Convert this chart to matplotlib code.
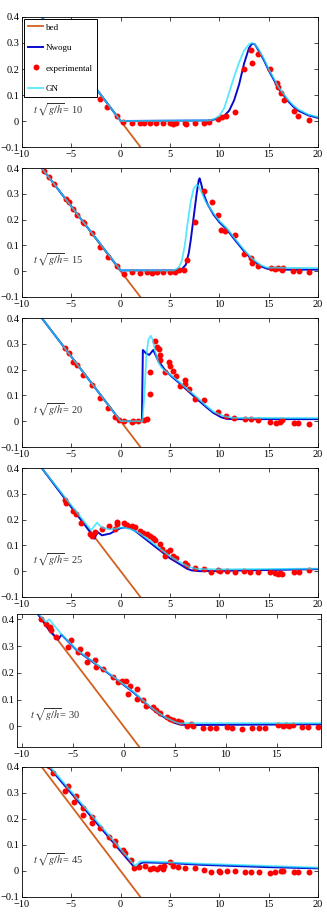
import matplotlib
matplotlib.use("Agg")
from matplotlib import pyplot as plt
from matplotlib.ticker import FuncFormatter

plt.rcParams['font.family'] = ['Liberation Serif', 'DejaVu Serif']
plt.rcParams['mathtext.fontset'] = 'stix'

# fundo (bed): reta y = -0.05 x
bed_x = [-10, 4]
bed_y = [0.5, -0.2]

times = [10, 15, 20, 25, 30, 45]

# ---- t = 10
nw_x_10 = [-8, 0, 9, 10, 10.5, 11, 11.5, 12, 12.5, 13, 13.3, 13.6, 14, 14.5, 15, 15.5, 16,
           16.5, 17, 17.5, 18, 19, 20]
nw_y_10 = [0.4, 0, 0.002, 0.01, 0.02, 0.04, 0.08, 0.14, 0.22, 0.28, 0.297, 0.295, 0.27, 0.235,
           0.195, 0.16, 0.125, 0.1, 0.075, 0.055, 0.04, 0.022, 0.012]
gn_x_10 = [-8, 0, 9, 9.5, 10, 10.5, 11, 11.5, 12, 12.5, 13, 13.3, 13.6, 14, 14.5, 15, 15.5,
           16, 16.5, 17, 17.5, 18, 19, 20]
gn_y_10 = [0.4, 0, 0.002, 0.008, 0.02, 0.05, 0.11, 0.17, 0.225, 0.27, 0.295, 0.3, 0.295,
           0.275, 0.24, 0.2, 0.165, 0.13, 0.105, 0.08, 0.06, 0.045, 0.025, 0.015]
ex_x_10 = [-3.0, -2.1, -1.35, -0.4, 0.28, 1.1, 2.0, 2.4, 3.0, 3.6, 4.3, 5.0, 5.3, 5.6, 6.5, 6.6,
           7.5, 8.4, 9.0, 9.9, 10.25, 10.7, 11.6, 12.55, 13.2, 13.3, 13.9, 15.1, 15.8, 15.9,
           16.3, 16.6, 17.6, 17.95, 19.05]
ex_y_10 = [0.134, 0.086, 0.054, 0.018, -0.005, -0.008, -0.006, -0.008, -0.006, -0.008, -0.006,
           -0.008, -0.01, -0.006, -0.008, -0.01, -0.008, -0.008, -0.002, 0.009, 0.015, 0.018,
           0.035, 0.2, 0.275, 0.224, 0.257, 0.2, 0.148, 0.13, 0.108, 0.08, 0.04, 0.018, 0.005]

# ---- t = 15
nw_x_15 = [-8, 0, 5.6, 6.2, 6.6, 6.9, 7.1, 7.4, 7.7, 7.9, 8.0, 8.15, 8.4, 8.8, 9.4, 10, 10.8,
           11.6, 12.45, 13.3, 14.15, 14.8, 15.5, 20]
nw_y_15 = [0.4, 0.003, 0.003, 0.008, 0.025, 0.07, 0.12, 0.21, 0.3, 0.35, 0.36, 0.34, 0.3, 0.26,
           0.22, 0.19, 0.16, 0.12, 0.08, 0.045, 0.02, 0.01, 0.006, 0.006]
gn_x_15 = [-8, 0, 5.4, 5.9, 6.2, 6.5, 6.8, 7.1, 7.4, 7.7, 7.9, 8.2, 8.6, 9.4, 10, 10.8, 11.6,
           12.45, 13.3, 14.15, 14.8, 20]
gn_y_15 = [0.4, 0.003, 0.003, 0.015, 0.04, 0.1, 0.19, 0.27, 0.32, 0.335, 0.33, 0.305, 0.27,
           0.225, 0.195, 0.165, 0.125, 0.085, 0.05, 0.025, 0.014, 0.012]
ex_x_15 = [-7.8, -7.3, -6.8, -5.5, -5.2, -4.8, -4.45, -3.85, -3.7, -2.95, -2.1, -1.25, -0.4,
           0.35, 1.1, 2.0, 2.65, 3.15, 3.65, 4.3, 5.0, 5.5, 5.9, 6.4, 6.77, 7.55, 8.4, 9.3, 9.9,
           10.15, 10.6, 11.6, 12.55, 13.2, 13.3, 13.9, 15.2, 15.65, 15.99, 16.35, 16.5, 17.5,
           18.1, 19.05]
ex_y_15 = [0.387, 0.367, 0.337, 0.279, 0.267, 0.24, 0.218, 0.19, 0.185, 0.148, 0.094, 0.055,
           0.022, -0.01, -0.004, -0.008, -0.004, -0.008, -0.004, -0.004, -0.004, -0.004, 0.003,
           0.005, 0.042, 0.192, 0.309, 0.27, 0.218, 0.159, 0.156, 0.139, 0.065, 0.052, 0.031,
           0.022, 0.012, 0.009, 0.013, 0.003, 0.013, 0.0, 0.0, -0.004]

# ---- t = 20
nw_x_20 = [-8, 0, 2.15, 2.25, 2.6, 2.9, 3.3, 3.8, 4.5, 5.2, 6.0, 6.8, 7.7, 8.6, 9.4, 10.2,
           10.75, 11.5, 20]
nw_y_20 = [0.4, 0, 0, 0.276, 0.262, 0.257, 0.276, 0.235, 0.198, 0.172, 0.146, 0.118, 0.087,
           0.057, 0.032, 0.015, 0.009, 0.008, 0.008]
gn_x_20 = [-8, 0, 2.2, 2.4, 2.6, 2.8, 3.05, 3.25, 3.5, 3.8, 4.1, 4.5, 5.2, 6.0, 6.8, 7.7, 8.6,
           9.4, 10.4, 11.4, 20]
gn_y_20 = [0.4, 0, 0, 0.1, 0.25, 0.315, 0.331, 0.315, 0.27, 0.23, 0.21, 0.195, 0.175, 0.15,
           0.123, 0.094, 0.062, 0.037, 0.02, 0.013, 0.012]
ex_x_20 = [-5.65, -5.2, -4.8, -4.45, -3.8, -2.95, -2.1, -1.25, -0.55, -0.2, 0.35, 1.1, 1.3,
           1.8, 2.4, 2.65, 3.0, 3.0, 3.5, 3.65, 3.9, 4.0, 4.0, 4.5, 4.85, 5.0, 5.35, 5.6, 6.0,
           6.5, 6.5, 6.9, 7.55, 8.4, 9.9, 10.7, 11.45, 12.6, 13.2, 13.95, 15.15, 15.75, 16.15,
           16.35, 17.55, 17.95, 19.05]
ex_y_20 = [0.283, 0.263, 0.231, 0.218, 0.178, 0.142, 0.09, 0.051, 0.016, 0.003, 0.0, -0.004,
           0.0, 0.0, 0.005, 0.009, 0.104, 0.192, 0.309, 0.289, 0.279, 0.257, 0.237, 0.192,
           0.231, 0.214, 0.195, 0.175, 0.135, 0.159, 0.146, 0.126, 0.085, 0.081, 0.035, 0.022,
           0.013, 0.007, 0.009, 0.003, -0.004, -0.007, -0.004, 0.003, -0.007, -0.007, -0.01]

# ---- t = 25
nw_x_25 = [-8, -3.1, -2.65, -2.35, -1.9, -1.05, -0.5, 0.0, 0.5, 1.0, 1.5, 2.0, 3.0, 4.0, 5.0,
           6.0, 6.7, 7.2, 8.05, 20]
nw_y_25 = [0.4, 0.152, 0.126, 0.152, 0.139, 0.146, 0.158, 0.167, 0.17, 0.167, 0.155, 0.14,
           0.11, 0.08, 0.05, 0.027, 0.01, 0.003, 0.0, 0.008]
gn_x_25 = [-8, -3.0, -2.4, -1.9, -1.05, -0.5, 0.0, 0.6, 1.3, 2.0, 3.0, 4.0, 5.0, 6.0, 6.9,
           7.7, 9.7, 20]
gn_y_25 = [0.4, 0.159, 0.188, 0.169, 0.162, 0.165, 0.169, 0.167, 0.159, 0.145, 0.117, 0.087,
           0.058, 0.035, 0.017, 0.009, 0.007, 0.01]
ex_x_25 = [-5.65, -5.5, -4.8, -4.55, -4.0, -3.15, -2.95, -2.6, -1.9, -1.2, -0.55, -0.4, -0.35,
           0.3, 0.6, 1.1, 1.45, 2.0, 2.25, 2.65, 3.0, 3.25, 3.5, 3.95, 4.15, 4.5, 4.7, 5.0,
           5.35, 5.6, 6.55, 6.7, 7.55, 8.4, 9.15, 9.9, 10.1, 10.75, 11.6, 12.45, 13.15, 13.9,
           15.15, 15.65, 15.9, 16.15, 16.35, 17.55, 18.05, 19.05]
ex_y_25 = [0.276, 0.266, 0.233, 0.221, 0.185, 0.143, 0.135, 0.152, 0.165, 0.175, 0.162, 0.192,
           0.182, 0.185, 0.178, 0.175, 0.172, 0.156, 0.149, 0.146, 0.135, 0.13, 0.12, 0.107,
           0.087, 0.057, 0.074, 0.081, 0.057, 0.052, 0.031, 0.025, 0.013, 0.009, -0.004, 0.003,
           0.0, -0.001, -0.004, -0.001, -0.004, -0.004, -0.004, -0.007, -0.01, -0.007, -0.01,
           -0.004, -0.004, 0.003]

# ---- t = 30
nw_x_30 = [-8.6, -7.25, -6.43, -6.1, -4.6, -2.35, -0.38, 0.93, 2.57, 3.5, 4.2, 5.0, 5.5, 6.2, 20]
nw_y_30 = [0.43, 0.356, 0.324, 0.343, 0.284, 0.222, 0.166, 0.128, 0.072, 0.045, 0.029, 0.013,
           0.007, 0.005, 0.008]
gn_x_30 = [-8.6, -7.6, -7.3, -6.1, -4.6, -2.35, -0.38, 0.93, 2.57, 3.5, 4.2, 5.0, 5.5, 6.3, 20]
gn_y_30 = [0.43, 0.39, 0.4, 0.344, 0.286, 0.224, 0.168, 0.13, 0.075, 0.048, 0.032, 0.017,
           0.011, 0.012, 0.012]
ex_x_30 = [-8.07, -7.58, -7.25, -7.1, -6.6, -5.45, -5.2, -4.47, -4.3, -3.6, -3.6, -2.85, -2.67,
           -2.0, -1.03, -0.54, -0.2, 0.27, 0.6, 0.44, 1.26, 1.32, 1.9, 2.17, 2.9, 3.15, 3.55,
           4.2, 4.53, 4.86, 5.35, 5.67, 6.17, 6.56, 6.82, 7.8, 8.45, 9.1, 10.1, 10.58, 11.56,
           12.55, 13.3, 13.86, 15.16, 15.6, 15.9, 16.25, 16.64, 17.45, 18.1, 19.1]
ex_y_30 = [0.402, 0.381, 0.371, 0.361, 0.334, 0.297, 0.324, 0.278, 0.29, 0.269, 0.24, 0.247,
           0.222, 0.216, 0.184, 0.166, 0.169, 0.168, 0.15, 0.12, 0.141, 0.103, 0.097, 0.075,
           0.072, 0.06, 0.05, 0.035, 0.029, 0.025, 0.02, 0.016, 0.0, 0.0075, 0.0, -0.005,
           -0.005, -0.005, -0.0025, -0.005, -0.009, -0.005, -0.005, -0.005, 0.004, 0.001,
           0.004, 0.001, 0.004, -0.0025, -0.0025, -0.0025]

# ---- t = 45
nw_x_45 = [-7.23, 1.3, 1.57, 1.97, 2.3, 4.7, 8.05, 14.8, 20]
nw_y_45 = [0.398, 0.018, 0.011, 0.028, 0.033, 0.031, 0.024, 0.015, 0.01]
gn_x_45 = [-7.1, 1.46, 1.97, 2.65, 8.05, 20]
gn_y_45 = [0.398, 0.02, 0.037, 0.037, 0.028, 0.013]
ex_x_45 = [-7.23, -6.82, -5.64, -5.37, -4.73, -4.52, -3.78, -3.78, -2.93, -2.93, -2.09, -1.17,
           -0.56, -0.56, 0.28, 0.45, 1.02, 1.36, 1.9, 2.48, 2.99, 3.32, 3.66, 4.0, 4.34, 4.44,
           5.0, 5.35, 5.86, 6.54, 7.55, 8.4, 9.14, 9.92, 10.09, 10.77, 11.61, 12.6, 13.2, 13.98,
           15.16, 15.67, 16.2, 16.5, 17.6, 18.0, 19.05]
ex_y_45 = [0.403, 0.378, 0.309, 0.327, 0.267, 0.288, 0.244, 0.216, 0.209, 0.184, 0.165, 0.13,
           0.116, 0.1, 0.079, 0.069, 0.043, 0.011, 0.015, 0.018, 0.008, 0.011, 0.008, 0.014,
           0.008, 0.02, 0.034, 0.018, 0.015, 0.011, 0.011, 0.005, -0.005, -0.001, -0.005,
           0.001, -0.001, -0.003, -0.003, -0.003, -0.008, -0.003, 0.001, 0.001, -0.003,
           -0.003, -0.003]

paineis = [
    (nw_x_10, nw_y_10, gn_x_10, gn_y_10, ex_x_10, ex_y_10),
    (nw_x_15, nw_y_15, gn_x_15, gn_y_15, ex_x_15, ex_y_15),
    (nw_x_20, nw_y_20, gn_x_20, gn_y_20, ex_x_20, ex_y_20),
    (nw_x_25, nw_y_25, gn_x_25, gn_y_25, ex_x_25, ex_y_25),
    (nw_x_30, nw_y_30, gn_x_30, gn_y_30, ex_x_30, ex_y_30),
    (nw_x_45, nw_y_45, gn_x_45, gn_y_45, ex_x_45, ex_y_45),
]

# posicoes dos eixos em pixels (esq, topo, dir, baixo)
caixas = [
    (22, 17, 318, 147),
    (22, 168, 318, 297),
    (22, 318, 318, 447),
    (22, 468, 318, 597),
    (17, 614, 321, 747),
    (22, 767, 318, 897),
]

W, H = 327, 916
fig = plt.figure(figsize=(W / 100, H / 100), dpi=100)

fmt = FuncFormatter(lambda v, p: ('%g' % round(v, 3)).replace('-', '\u2212'))

for i, (t, dados, cx) in enumerate(zip(times, paineis, caixas)):
    nx, ny, gx, gy, exx, exy = dados
    l, tp, r, b = cx
    ax = fig.add_axes([l / W, 1 - b / H, (r - l) / W, (b - tp) / H])
    ax.plot(bed_x, bed_y, color='#D2601E', lw=1.3, label='bed')
    ax.plot(nx, ny, color='#0A0ACF', lw=1.4, label='Nwogu')
    ax.plot(exx, exy, '.', color='#FF0000', ms=6.5, label='experimental')
    ax.plot(gx, gy, color='#20E0FF', lw=1.3, alpha=0.75, label='GN')

    if t == 30:
        ax.set_xlim(-10.46, 19.35)
        ax.set_ylim(-0.077, 0.42)
        ax.set_xticks([-10, -5, 0, 5, 10, 15])
        ax.set_yticks([0, 0.1, 0.2, 0.3, 0.4])
    else:
        ax.set_xlim(-10, 20)
        ax.set_ylim(-0.1, 0.4)
        ax.set_xticks([-10, -5, 0, 5, 10, 15, 20])
        ax.set_yticks([-0.1, 0, 0.1, 0.2, 0.3, 0.4])
    ax.xaxis.set_major_formatter(fmt)
    ax.yaxis.set_major_formatter(fmt)
    ax.tick_params(direction='in', top=True, right=True, length=3, width=0.5,
                   labelsize=7.5, pad=2)
    for s in ax.spines.values():
        s.set_linewidth(0.6)

    ax.text(-8.9 if t != 30 else -9.2, 0.045, r'$t\,\sqrt{g/h}$= %d' % t,
            fontsize=7.5, va='center', ha='left', color='#333333')

    if i == 0:
        leg = ax.legend(loc='upper left', fontsize=6.5, frameon=True, fancybox=False,
                        edgecolor='black', borderpad=0.45, labelspacing=1.35,
                        handlelength=1.6, handletextpad=0.3, borderaxespad=0.25,
                        framealpha=1)
        leg.get_frame().set_linewidth(0.7)

fig.savefig('out.png', dpi=100)
